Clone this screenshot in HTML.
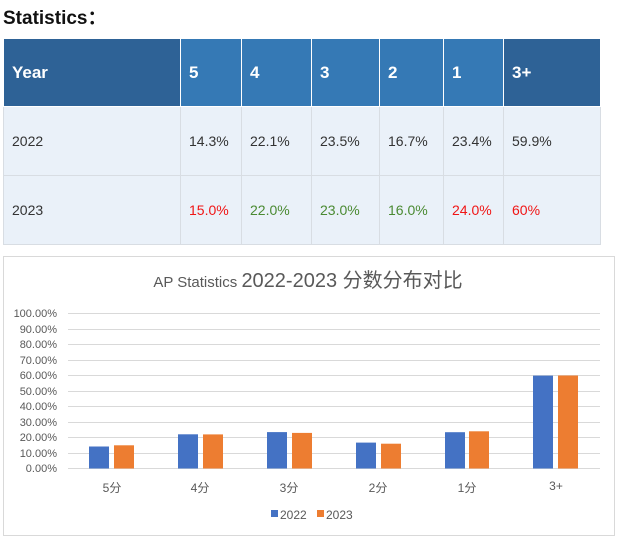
<!DOCTYPE html>
<html><head><meta charset="utf-8"><style>
body{margin:0;width:617px;height:537px;background:#fff;font-family:"Liberation Sans","Noto Sans CJK SC",sans-serif;position:relative;overflow:hidden}
.h{position:absolute;left:3px;top:3px;font-size:19px;font-weight:bold;color:#111}
table{position:absolute;left:3px;top:38px;border-collapse:collapse;width:598px;table-layout:fixed}
td{border:1px solid #d8dde3;padding:0 0 0 8px;font-size:14px;color:#333;background:#eaf1f9}
tr.hd td{background:#3579b5;color:#fff;font-weight:bold;font-size:17px;height:67px;border-color:#fff}
tr.hd td.d{background:#2e6296}
tr.r td{height:68px}
.red{color:#f01515}.grn{color:#4a8a32}
</style></head><body>
<div class="h">Statistics：</div>
<table>
<colgroup><col style="width:177px"><col style="width:61px"><col style="width:70px"><col style="width:68px"><col style="width:64px"><col style="width:60px"><col></colgroup>
<tr class="hd"><td class="d">Year</td><td>5</td><td>4</td><td>3</td><td>2</td><td>1</td><td class="d">3+</td></tr>
<tr class="r"><td>2022</td><td>14.3%</td><td>22.1%</td><td>23.5%</td><td>16.7%</td><td>23.4%</td><td>59.9%</td></tr>
<tr class="r"><td>2023</td><td class="red">15.0%</td><td class="grn">22.0%</td><td class="grn">23.0%</td><td class="grn">16.0%</td><td class="red">24.0%</td><td class="red">60%</td></tr>
</table>
<svg style="position:absolute;left:0;top:0" width="617" height="537" font-family="Liberation Sans,Noto Sans CJK SC,sans-serif">
<rect x="3.5" y="256.5" width="611" height="279" fill="#fff" stroke="#d9d9d9"/>
<text x="308" y="287" text-anchor="middle" fill="#595959" font-size="15">AP Statistics <tspan font-size="20">2022-2023 分数分布对比</tspan></text>
<g stroke="#d9d9d9" stroke-width="1">
<line x1="68" x2="600" y1="313.5" y2="313.5"/><line x1="68" x2="600" y1="329.5" y2="329.5"/><line x1="68" x2="600" y1="344.5" y2="344.5"/><line x1="68" x2="600" y1="360.5" y2="360.5"/><line x1="68" x2="600" y1="375.5" y2="375.5"/><line x1="68" x2="600" y1="391.5" y2="391.5"/><line x1="68" x2="600" y1="406.5" y2="406.5"/><line x1="68" x2="600" y1="422.5" y2="422.5"/><line x1="68" x2="600" y1="437.5" y2="437.5"/><line x1="68" x2="600" y1="453.5" y2="453.5"/><line x1="68" x2="600" y1="468.5" y2="468.5"/>
</g>
<g font-size="11" fill="#595959" text-anchor="end">
<text x="57" y="317">100.00%</text><text x="57" y="333">90.00%</text><text x="57" y="348">80.00%</text><text x="57" y="364">70.00%</text><text x="57" y="379">60.00%</text><text x="57" y="395">50.00%</text><text x="57" y="410">40.00%</text><text x="57" y="426">30.00%</text><text x="57" y="441">20.00%</text><text x="57" y="457">10.00%</text><text x="57" y="472">0.00%</text>
</g>
<g fill="#4472c4">
<rect x="89" y="446.5" width="20" height="22"/><rect x="178" y="434.3" width="20" height="34.2"/><rect x="267" y="432.1" width="20" height="36.4"/><rect x="356" y="442.6" width="20" height="25.9"/><rect x="445" y="432.2" width="20" height="36.3"/><rect x="533" y="375.6" width="20" height="92.9"/>
</g>
<g fill="#ed7d31">
<rect x="114" y="445.3" width="20" height="23.2"/><rect x="203" y="434.4" width="20" height="34.1"/><rect x="292" y="432.9" width="20" height="35.6"/><rect x="381" y="443.7" width="20" height="24.8"/><rect x="469" y="431.3" width="20" height="37.2"/><rect x="558" y="375.5" width="20" height="93"/>
</g>
<g font-size="12" fill="#595959" text-anchor="middle">
<text x="112" y="492">5分</text><text x="200" y="492">4分</text><text x="289" y="492">3分</text><text x="378" y="492">2分</text><text x="467" y="492">1分</text><text x="556" y="490">3+</text>
</g>
<rect x="271" y="510" width="7" height="7" fill="#4472c4"/><text x="280" y="519" font-size="12" fill="#595959">2022</text>
<rect x="317" y="510" width="7" height="7" fill="#ed7d31"/><text x="326" y="519" font-size="12" fill="#595959">2023</text>
</svg>
</body></html>
